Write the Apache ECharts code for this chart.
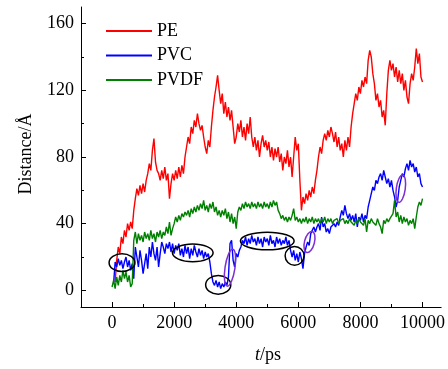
<!DOCTYPE html>
<html>
<head>
<meta charset="utf-8">
<script src="https://cdn.jsdelivr.net/npm/echarts@6/dist/echarts.min.js"></script>
<style>
  html, body { margin: 0; padding: 0; background: #fff; }
  #chart { width: 448px; height: 369px; }
</style>
</head>
<body>
<div id="chart"></div>
<script>
// sampling step of the three traces, in ps
const step = 50;

// PE distance (Å), one value every 50 ps from 0 to 10000
const peValues = [
  null, null, 5, 18, 26, 22, 32, 28, 36, 32, 40, 36, 41, 37, 48, 55, 61, 57, 63, 58,
  64, 59, 66, 70, 76, 72, 84, 91, 77, 72, 70, 66, 72, 67, 74, 66, 70, 55, 64, 70,
  66, 72, 67, 74, 68, 75, 70, 80, 86, 92, 88, 98, 94, 102, 98, 106, 100, 96, 99, 92,
  86, 82, 90, 86, 98, 108, 116, 122, 129, 120, 112, 118, 106, 113, 104, 110, 102, 108, 98, 88,
  92, 100, 95, 102, 92, 98, 90, 100, 94, 104, 92, 86, 92, 84, 90, 80, 88, 93, 86, 90,
  84, 89, 80, 86, 78, 85, 80, 86, 77, 82, 72, 80, 76, 84, 74, 80, 68, 80, 92, 84,
  88, 66, 48, 56, 52, 58, 54, 60, 56, 62, 58, 66, 72, 80, 86, 82, 90, 94, 90, 96,
  92, 98, 94, 89, 95, 86, 92, 84, 88, 80, 90, 84, 92, 86, 98, 106, 112, 118, 114, 122,
  118, 126, 122, 128, 124, 138, 144, 140, 130, 124, 114, 118, 110, 114, 104, 108, 99, 118, 132, 138,
  132, 136, 128, 134, 125, 132, 124, 130, 120, 126, 116, 112, 124, 130, 126, 134, 145, 136, 142, 128,
  125
];

// PVC distance (Å)
const pvcValues = [
  null, 4, 17, 14, 19, 15, 18, 13, 17, 20, 14, 18, 12, 16, 7, 26, 20, 14, 24, 18,
  10, 16, 22, 13, 26, 20, 29, 22, 18, 26, 14, 22, 29, 26, 22, 28, 25, 29, 23, 28,
  22, 27, 24, 28, 21, 25, 20, 27, 22, 26, 19, 25, 21, 27, 23, 20, 25, 21, 24, 19,
  23, 20, 22, 17, 10, 5, 3, 6, 2, 5, 1, 4, 2, 5, 3, 8, 28, 30, 18, 14,
  22, 20, 24, 26, 30, 28, 32, 27, 31, 28, 33, 29, 31, 27, 32, 28, 31, 26, 32, 29,
  31, 27, 33, 28, 30, 26, 32, 28, 31, 27, 30, 28, 32, 27, 30, 24, 20, 24, 18, 22,
  17, 23, 19, 13, 22, 26, 29, 27, 34, 36, 38, 35, 38, 40, 36, 44, 38, 40, 35, 37,
  34, 38, 37, 40, 38, 41, 39, 44, 48, 45, 51, 46, 43, 46, 42, 45, 41, 46, 38, 44,
  42, 46, 41, 45, 43, 50, 54, 58, 62, 60, 66, 64, 68, 70, 66, 72, 68, 64, 67, 62,
  66, 60, 56, 50, 54, 62, 66, 70, 68, 73, 76, 72, 78, 74, 76, 71, 74, 68, 70, 64,
  62
];

// PVDF distance (Å)
const pvdfValues = [
  2, 6, 1, 8, 3, 9, 5, 12, 7, 11, 5, 9, 2, 4, 30, 35, 28, 34, 30, 33,
  29, 35, 31, 34, 30, 36, 31, 34, 29, 35, 32, 36, 31, 35, 33, 38, 34, 41, 33, 37,
  40, 44, 41, 45, 42, 46, 44, 47, 45, 48, 44, 49, 46, 50, 47, 51, 48, 52, 49, 54,
  48, 51, 47, 52, 49, 53, 47, 50, 45, 48, 44, 48, 45, 49, 43, 47, 41, 46, 40, 44,
  37, 47, 50, 48, 52, 49, 53, 50, 52, 49, 53, 50, 52, 49, 53, 50, 52, 49, 53, 50,
  52, 49, 53, 50, 54, 51, 53, 48, 46, 43, 45, 42, 44, 41, 44, 42, 45, 49, 42, 44,
  41, 43, 40, 43, 41, 44, 40, 43, 41, 44, 40, 43, 41, 43, 40, 43, 41, 44, 40, 43,
  41, 43, 40, 42, 41, 43, 40, 42, 41, 43, 40, 42, 40, 43, 41, 42, 39, 42, 40, 43,
  41, 42, 39, 43, 35, 42, 40, 43, 41, 42, 39, 43, 40, 38, 34, 42, 40, 43, 41, 43,
  42, 46, 54, 44, 47, 41, 45, 40, 44, 41, 43, 39, 42, 40, 43, 37, 44, 50, 53, 51,
  55
];

// marked regions: [t centre, distance centre, half width (ps), half height (Å), tilt]
const blackRings = [
  [320, 16.6, 415, 5.3, 0],
  [2600, 22.5, 655, 5.3, 0],
  [3420, 3.3, 405, 5.6, 0],
  [5000, 29.6, 865, 5.3, 0],
  [5880, 20.7, 305, 5.6, 0]
];
const purpleRings = [
  [3800, 13.6, 160, 11.2, -0.15],
  [6360, 29, 160, 6.5, -0.25],
  [9300, 61, 144, 8.3, -0.14]
];

const xMajor = [0, 2000, 4000, 6000, 8000, 10000];
const xMinor = [1000, 3000, 5000, 7000, 9000];
const yMajor = [0, 40, 80, 120, 160];
const yMinor = [20, 60, 100, 140];

const font = 'Liberation Serif';

const toPairs = arr => arr
  .map((v, i) => [i * step, v])
  .filter(p => p[1] !== null);

const ringRenderer = color => (params, api) => {
  const c = api.coord([api.value(0), api.value(1)]);
  const p = api.coord([api.value(0) + api.value(2), api.value(1) + api.value(3)]);
  return {
    type: 'ellipse',
    x: c[0],
    y: c[1],
    rotation: api.value(4),
    shape: { cx: 0, cy: 0, rx: p[0] - c[0], ry: c[1] - p[1] },
    style: { fill: null, stroke: color, lineWidth: 1.5 }
  };
};

const lineSeries = (name, values, color) => ({
  name: name,
  type: 'line',
  data: toPairs(values),
  symbol: 'none',
  showSymbol: false,
  color: color,
  lineStyle: { color: color, width: 1.4 },
  sampling: null
});

const chart = echarts.init(document.getElementById('chart'));

const option = {
  animation: false,
  grid: { left: 81, right: 3, top: 7, bottom: 57 },
  legend: {
    orient: 'vertical',
    left: 101,
    top: 17,
    icon: 'rect',
    itemWidth: 46,
    itemHeight: 2,
    itemGap: 6.5,
    textStyle: { fontFamily: font, fontSize: 18, color: '#000' },
    data: ['PE', 'PVC', 'PVDF']
  },
  xAxis: [
    {
      type: 'value',
      min: -1000,
      max: 10600,
      name: '{i|t}/ps',
      nameLocation: 'middle',
      nameGap: 39,
      nameTextStyle: {
        fontFamily: font, fontSize: 18, color: '#000', padding: [0, 0, 0, 14],
        rich: { i: { fontFamily: font, fontSize: 18, fontStyle: 'italic', color: '#000' } }
      },
      axisLine: { show: true, onZero: false, lineStyle: { color: '#000', width: 1 } },
      axisTick: { show: true, inside: true, length: 5, customValues: xMajor, lineStyle: { color: '#000' } },
      axisLabel: {
        customValues: xMajor, fontFamily: font, fontSize: 18, color: '#000', margin: 7,
        formatter: v => String(v)
      },
      splitLine: { show: false }
    },
    {
      type: 'value',
      min: -1000,
      max: 10600,
      position: 'bottom',
      axisLine: { show: false, onZero: false },
      axisTick: { show: true, inside: true, length: 3, customValues: xMinor, lineStyle: { color: '#000' } },
      axisLabel: { show: false },
      splitLine: { show: false }
    }
  ],
  yAxis: [
    {
      type: 'value',
      min: -10,
      max: 170,
      name: 'Distance/Å',
      nameLocation: 'middle',
      nameGap: 46,
      nameTextStyle: { fontFamily: font, fontSize: 18, color: '#000', padding: [0, 0, 0, 6] },
      axisLine: { show: true, onZero: false, lineStyle: { color: '#000', width: 1 } },
      axisTick: { show: true, inside: true, length: 5, customValues: yMajor, lineStyle: { color: '#000' } },
      axisLabel: {
        customValues: yMajor, fontFamily: font, fontSize: 18, color: '#000', margin: 7,
        formatter: v => String(v)
      },
      splitLine: { show: false }
    },
    {
      type: 'value',
      min: -10,
      max: 170,
      position: 'left',
      axisLine: { show: false, onZero: false },
      axisTick: { show: true, inside: true, length: 3, customValues: yMinor, lineStyle: { color: '#000' } },
      axisLabel: { show: false },
      splitLine: { show: false }
    }
  ],
  series: [
    lineSeries('PE', peValues, '#ff0000'),
    lineSeries('PVC', pvcValues, '#0000ff'),
    lineSeries('PVDF', pvdfValues, '#008000'),
    {
      type: 'custom',
      data: blackRings,
      encode: { x: 0, y: 1 },
      renderItem: ringRenderer('#000'),
      silent: true,
      z: 5
    },
    {
      type: 'custom',
      data: purpleRings,
      encode: { x: 0, y: 1 },
      renderItem: ringRenderer('#7f2fd0'),
      silent: true,
      z: 5
    }
  ]
};

chart.setOption(option);
</script>
</body>
</html>
